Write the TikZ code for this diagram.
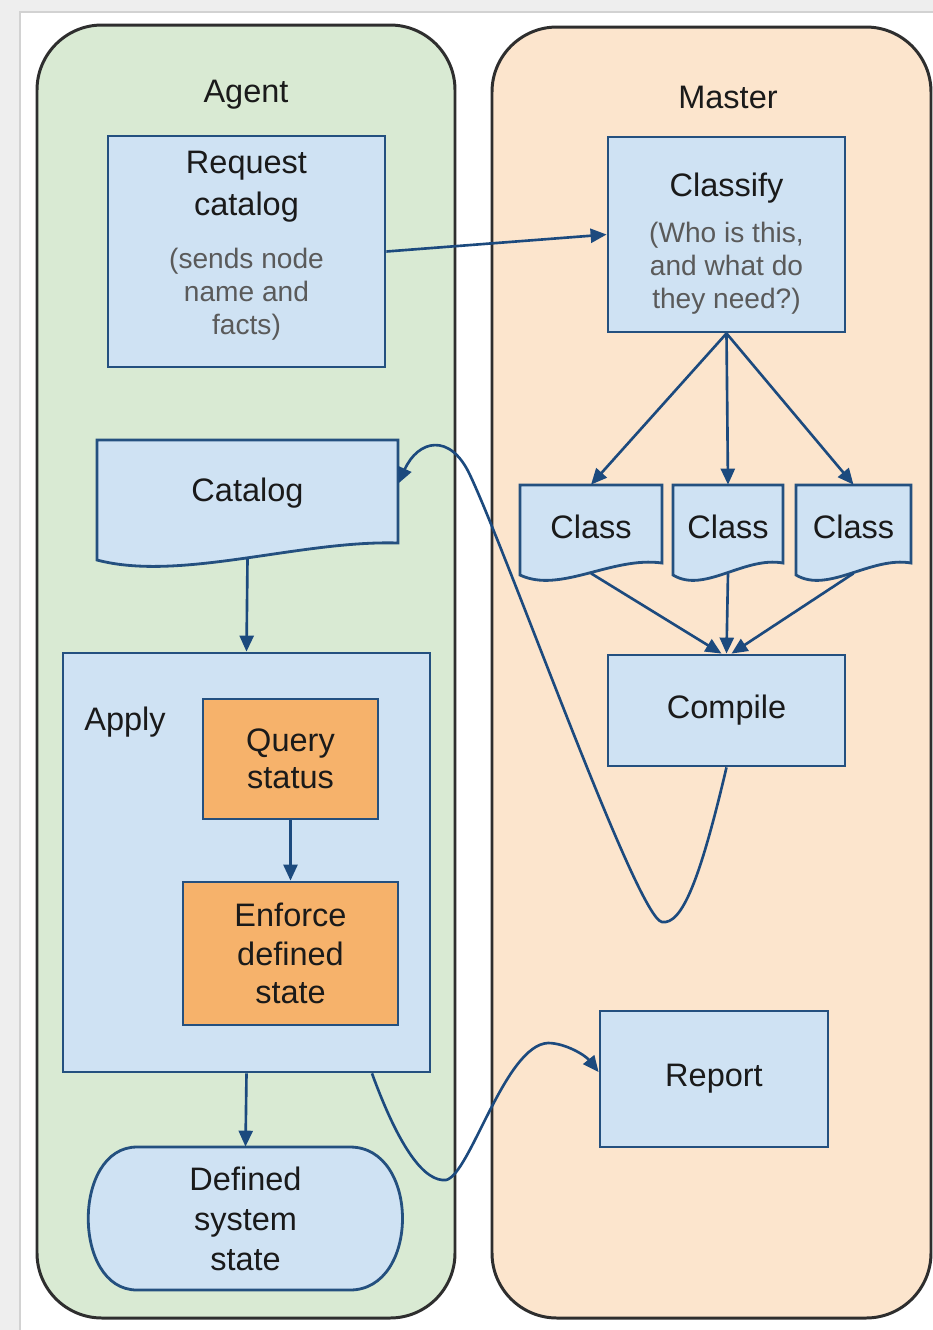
\documentclass[tikz,border=0pt]{standalone}
\usepackage{fontspec}
\setmainfont{Liberation Sans}
\usetikzlibrary{arrows.meta,calc}
\definecolor{agentfill}{HTML}{D9EAD3}
\definecolor{masterfill}{HTML}{FCE5CD}
\definecolor{boxfill}{HTML}{CFE2F3}
\definecolor{boxline}{HTML}{24507F}
\definecolor{orangefill}{HTML}{F6B26B}
\definecolor{panelline}{HTML}{2E2E2E}
\definecolor{arrowcol}{HTML}{1C4A7E}
\definecolor{txt}{HTML}{1A1A1A}
\definecolor{subtxt}{HTML}{5A5A5A}
\definecolor{bggray}{HTML}{EEEEEE}
\newcommand{\dtitlefont}{\fontsize{18.5}{23.8}\selectfont}
\newcommand{\dsubfont}{\fontsize{16}{18.7}\selectfont}
\begin{document}
\begin{tikzpicture}[x=0.02cm,y=-0.02cm,
 panel/.style={draw=panelline, line width=1.7pt, rounded corners=1.3cm},
 boxshape/.style={draw=boxline, fill=boxfill, line width=1.6pt},
 box/.style={boxshape, rectangle, inner sep=0pt, align=center, text=txt, font=\dtitlefont},
 obox/.style={box, fill=orangefill},
 lbl/.style={inner sep=0pt, align=center, text=txt, font=\dtitlefont},
 sublbl/.style={inner sep=0pt, align=center, text=subtxt, font=\dsubfont},
 arr/.style={draw=arrowcol, line width=1.5pt, -{Triangle[length=0.32cm,width=0.28cm]}},
]
\useasboundingbox (0,0) rectangle (933,1330);
% page background
\fill[bggray] (0,0) rectangle (933,1330);
\fill[white] (20,12) rectangle (933,1330);
\draw[gray!35, line width=1pt] (20,1330) -- (20,12) -- (933,12);
% panels
\draw[panel, fill=agentfill] (37,25) rectangle (455,1318);
\draw[panel, fill=masterfill] (492,27) rectangle (931,1318);
\node[lbl] (agentlbl) at (246,95) {Agent};
\node[lbl] (masterlbl) at (728,97) {Master};
% request catalog
\node[box, minimum width=5.54cm, minimum height=4.62cm] (req) at (246.5,251.5) {};
\node[lbl] (reqtitle) at (246.5,187) {Request\\catalog};
\node[sublbl] (reqsub) at (246.5,294) {(sends node\\name and\\facts)};
% classify
\node[box, minimum width=4.74cm, minimum height=3.9cm] (classify) at (726.5,234.5) {};
\node[lbl] (classifytitle) at (726.5,188) {Classify};
\node[sublbl] (classifysub) at (726.5,268) {(Who is this,\\and what do\\they need?)};
% catalog document
\draw[boxshape] (97,440) -- (398,440) -- (398,543) .. controls (300,540) and (180,582) .. (97,560) -- cycle;
\node[lbl, minimum width=6.02cm, minimum height=2.1cm] (catalog) at (247.5,493) {Catalog};
% classes
\draw[boxshape] (520,485) -- (662,485) -- (662,563) .. controls (612,556) and (560,594) .. (520,575) -- cycle;
\node[lbl, minimum width=2.84cm, minimum height=1.68cm] (class1) at (591,527) {Class};
\draw[boxshape] (673,485) -- (783,485) -- (783,563) .. controls (744,556) and (704,594) .. (673,575) -- cycle;
\node[lbl, minimum width=2.2cm, minimum height=1.68cm] (class2) at (728,527) {Class};
\draw[boxshape] (796,485) -- (911,485) -- (911,563) .. controls (871,556) and (828,594) .. (796,575) -- cycle;
\node[lbl, minimum width=2.3cm, minimum height=1.68cm] (class3) at (853.5,527) {Class};
% compile
\node[box, minimum width=4.74cm, minimum height=2.22cm] (compile) at (726.5,710.5) {Compile};
% apply
\node[box, minimum width=7.34cm, minimum height=8.38cm] (apply) at (246.5,862.5) {};
\node[lbl] (applylbl) at (125,722) {Apply};
\node[obox, minimum width=3.5cm, minimum height=2.4cm, font=\fontsize{18.5}{21}\selectfont] (query) at (290.5,759) {Query\\status};
\node[obox, minimum width=4.3cm, minimum height=2.86cm, font=\fontsize{18.5}{22.1}\selectfont] (enforce) at (290.5,953.5) {Enforce\\defined\\state};
% defined system state
\draw[boxshape] (137,1147) -- (350,1147) .. controls (420,1147) and (420,1290) .. (350,1290) -- (137,1290) .. controls (72,1290) and (72,1147) .. (137,1147) -- cycle;
\node[lbl, minimum width=6.3cm, minimum height=2.86cm, font=\fontsize{18.5}{22.7}\selectfont] (defined) at (245.5,1218.5) {Defined\\system\\state};
% report
\node[box, minimum width=4.56cm, minimum height=2.72cm] (report) at (714,1079) {Report};
% connectors
\draw[arr] (req.east) -- (classify.west);
\draw[arr] (classify.south) -- (class1.north);
\draw[arr] (classify.south) -- (class2.north);
\draw[arr] (classify.south) -- (class3.north);
\draw[arr] ([yshift=-0.08cm]class1.south) -- ([xshift=-0.1cm]compile.north);
\draw[arr] ([yshift=-0.08cm]class2.south) -- (compile.north);
\draw[arr] ([yshift=-0.08cm]class3.south) -- ([xshift=0.1cm]compile.north);
\draw[arr] ([yshift=-0.26cm]catalog.south) -- (apply.north);
\draw[arr] (query.south) -- (enforce.north);
\draw[arr] (apply.south) -- (defined.north);
\draw[arr] (compile.south) .. controls (700,880) and (682,925) .. (662,922)
  .. controls (637,918) and (510,560) .. (470,475)
  .. controls (450,432) and (418,440) .. ([yshift=0.19cm]catalog.east);
\draw[arr] ([xshift=2.51cm]apply.south) .. controls (400,1150) and (425,1182) .. (446,1180)
  .. controls (470,1175) and (505,1045) .. (548,1043)
  .. controls (565,1043) and (585,1055) .. ([yshift=0.14cm]report.west);
\end{tikzpicture}
\end{document}
